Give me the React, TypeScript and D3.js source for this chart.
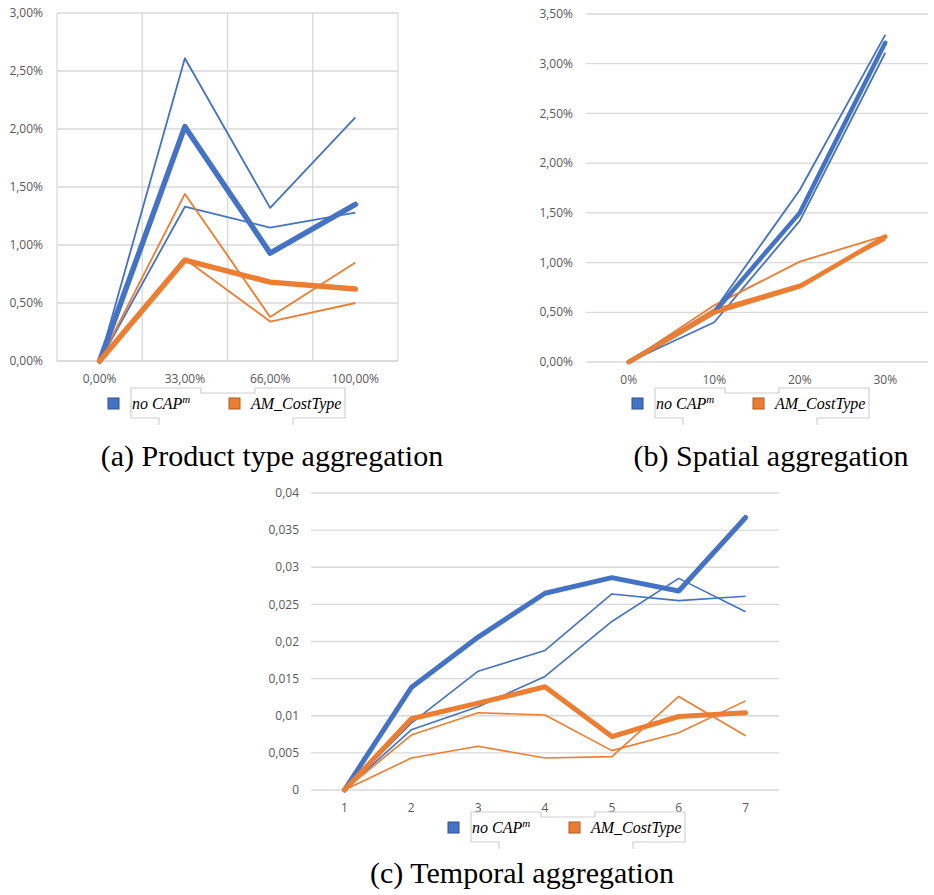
import React from "react";
import * as d3 from "d3";

// ---------- DATA ----------
const aCategories = ["0,00%", "33,00%", "66,00%", "100,00%"];
const aBlueThick = [0, 2.02, 0.93, 1.35];
const aBlueThinA = [0, 2.61, 1.32, 2.1];
const aBlueThinB = [0, 1.33, 1.15, 1.28];
const aOrangeThick = [0, 0.87, 0.68, 0.62];
const aOrangeThinA = [0, 1.44, 0.38, 0.85];
const aOrangeThinB = [0, 0.88, 0.34, 0.5];
const aYTicks = [0, 0.5, 1, 1.5, 2, 2.5, 3];

const bCategories = ["0%", "10%", "20%", "30%"];
const bBlueThick = [0, 0.5, 1.5, 3.21];
const bBlueThinA = [0, 0.4, 1.42, 3.11];
const bBlueThinB = [0, 0.52, 1.73, 3.29];
const bOrangeThick = [0, 0.5, 0.76, 1.26];
const bOrangeThinA = [0, 0.57, 1.01, 1.27];
const bOrangeThinB = [0, 0.53, 0.78, 1.23];
const bYTicks = [0, 0.5, 1, 1.5, 2, 2.5, 3, 3.5];

const cCategories = ["1", "2", "3", "4", "5", "6", "7"];
const cBlueThick = [0, 0.0138, 0.0206, 0.0265, 0.0286, 0.0268, 0.0367];
const cBlueThinA = [0, 0.009, 0.016, 0.0188, 0.0264, 0.0255, 0.0261];
const cBlueThinB = [0, 0.0081, 0.0112, 0.0153, 0.0227, 0.0285, 0.024];
const cOrangeThick = [0, 0.0096, 0.0117, 0.0139, 0.0072, 0.0099, 0.0104];
const cOrangeThinA = [0, 0.0074, 0.0104, 0.0101, 0.0053, 0.0077, 0.012];
const cOrangeThinB = [0, 0.0043, 0.0059, 0.0043, 0.0045, 0.0126, 0.0073];
const cYTicks = [0, 0.005, 0.01, 0.015, 0.02, 0.025, 0.03, 0.035, 0.04];

const legendLabels = ["no CAP", "AM_CostType"];
const captions = [
  "(a) Product type aggregation",
  "(b) Spatial aggregation",
  "(c) Temporal aggregation",
];

// ---------- STYLE ----------
const BLUE = "#4472C4";
const ORANGE = "#ED7D31";
const GRID = "#d9d9d9";
const TICK = "#595959";
const TICK_FONT = "'Open Sans', 'Liberation Sans', sans-serif";

type Series = { values: number[]; color: string; thick: boolean };

const pctFmt = (v: number) => v.toFixed(2).replace(".", ",") + "%";
const decFmt = (v: number) =>
  v === 0 ? "0" : String(+v.toFixed(3)).replace(".", ",");

function Panel(props: {
  categories: string[];
  series: Series[];
  yTicks: number[];
  yMax: number;
  fmt: (v: number) => string;
  left: number;
  right: number;
  top: number;
  bottom: number;
  labelX: number;
  vGrid: boolean;
  thickW: number;
  thinW: number;
}) {
  const { categories, series, yTicks, yMax, fmt, left, right, top, bottom, labelX, vGrid } = props;
  const x = d3.scaleBand<string>().domain(categories).range([left, right]);
  const y = d3.scaleLinear().domain([0, yMax]).range([bottom, top]);
  const line = d3
    .line<number>()
    .x((_, i) => (x(categories[i]) as number) + x.bandwidth() / 2)
    .y((d) => y(d));
  const order = [...series].sort((a, b) => Number(a.thick) - Number(b.thick));
  return (
    <g>
      {yTicks.map((t) => (
        <g key={t}>
          <line x1={left} x2={right} y1={y(t)} y2={y(t)} stroke={GRID} strokeWidth={1.3} />
          <text
            x={labelX}
            y={y(t)}
            dy="0.35em"
            textAnchor="end"
            fontSize={12}
            fill={TICK}
            fontFamily={TICK_FONT}
          >
            {fmt(t)}
          </text>
        </g>
      ))}
      {vGrid &&
        d3.range(categories.length + 1).map((i) => {
          const xx = i === categories.length ? right : (x(categories[i]) as number);
          return (
            <line key={"v" + i} x1={xx} x2={xx} y1={top} y2={bottom} stroke={GRID} strokeWidth={1.3} />
          );
        })}
      {categories.map((c) => (
        <text
          key={c}
          x={(x(c) as number) + x.bandwidth() / 2}
          y={bottom + 22}
          textAnchor="middle"
          fontSize={12}
          fill={TICK}
          fontFamily={TICK_FONT}
        >
          {c}
        </text>
      ))}
      {order
        .filter((s) => !s.thick)
        .map((s, i) => (
          <path
            key={"t" + i}
            d={line(s.values) || ""}
            fill="none"
            stroke={s.color}
            strokeWidth={props.thinW}
            strokeLinejoin="round"
          />
        ))}
      {order
        .filter((s) => s.thick)
        .map((s, i) => (
          <path
            key={"k" + i}
            d={line(s.values) || ""}
            fill="none"
            stroke={s.color}
            strokeWidth={props.thickW}
            strokeLinejoin="round"
            strokeLinecap="round"
          />
        ))}
    </g>
  );
}

function Legend(props: { x: number; y: number }) {
  const { x, y } = props;
  const frame = [
    [x, y + 30],
    [x, y],
    [x + 70, y],
    [x + 70, y + 5],
    [x + 124, y + 5],
    [x + 124, y],
    [x + 214, y],
    [x + 214, y + 30],
    [x + 162, y + 30],
    [x + 162, y + 37],
  ];
  const frame2 = [
    [x, y + 30],
    [x + 28, y + 30],
    [x + 28, y + 37],
  ];
  const pl = (p: number[][]) => p.map((q) => q.join(",")).join(" ");
  const font = "'Liberation Serif', 'DejaVu Serif', serif";
  return (
    <g>
      <polyline points={pl(frame)} fill="none" stroke="#d0d0d0" strokeWidth={1.2} />
      <polyline points={pl(frame2)} fill="none" stroke="#d0d0d0" strokeWidth={1.2} />
      <rect x={x - 23} y={y + 10} width={11} height={11} fill={BLUE} stroke="#2f528f" strokeWidth={1} />
      <text x={x + 1} y={y + 21} fontSize={16} fontStyle="italic" fontFamily={font} fill="#000">
        {legendLabels[0]}
        <tspan dy={-6} fontSize={11}>
          m
        </tspan>
      </text>
      <rect x={x + 98} y={y + 10} width={11} height={11} fill={ORANGE} stroke="#ae5a21" strokeWidth={1} />
      <text x={x + 120} y={y + 21} fontSize={16} fontStyle="italic" fontFamily={font} fill="#000">
        {legendLabels[1]}
      </text>
    </g>
  );
}

const mk = (
  bt: number[],
  b1: number[],
  b2: number[],
  ot: number[],
  o1: number[],
  o2: number[]
): Series[] => [
  { values: b1, color: BLUE, thick: false },
  { values: b2, color: BLUE, thick: false },
  { values: bt, color: BLUE, thick: true },
  { values: o1, color: ORANGE, thick: false },
  { values: o2, color: ORANGE, thick: false },
  { values: ot, color: ORANGE, thick: true },
];

export default function App() {
  const capFont = "'Liberation Serif', 'DejaVu Serif', serif";
  return (
    <svg
      width={934}
      height={895}
      style={{ position: "absolute", left: 0, top: 0, background: "#fff" }}
    >
      <rect width={934} height={895} fill="#fff" />
      {/* Panel a */}
      <line x1={57} x2={398} y1={361} y2={361} stroke={GRID} />
      <Panel
        categories={aCategories}
        series={mk(aBlueThick, aBlueThinA, aBlueThinB, aOrangeThick, aOrangeThinA, aOrangeThinB)}
        yTicks={aYTicks}
        yMax={3}
        fmt={pctFmt}
        left={57}
        right={398}
        top={13}
        bottom={361}
        labelX={43}
        vGrid={true}
        thickW={5.5}
        thinW={1.8}
      />
      <Legend x={131} y={388} />
      <text x={272} y={466} textAnchor="middle" fontSize={30} fontFamily={capFont}>
        {captions[0]}
      </text>

      {/* Panel b */}
      <Panel
        categories={bCategories}
        series={mk(bBlueThick, bBlueThinA, bBlueThinB, bOrangeThick, bOrangeThinA, bOrangeThinB)}
        yTicks={bYTicks}
        yMax={3.5}
        fmt={pctFmt}
        left={586}
        right={928}
        top={14}
        bottom={362}
        labelX={573}
        vGrid={false}
        thickW={4.5}
        thinW={1.8}
      />
      <Legend x={655} y={388} />
      <text x={771} y={466} textAnchor="middle" fontSize={30} fontFamily={capFont}>
        {captions[1]}
      </text>

      {/* Panel c */}
      <Panel
        categories={cCategories}
        series={mk(cBlueThick, cBlueThinA, cBlueThinB, cOrangeThick, cOrangeThinA, cOrangeThinB)}
        yTicks={cYTicks}
        yMax={0.04}
        fmt={decFmt}
        left={311}
        right={779}
        top={493}
        bottom={790}
        labelX={299}
        vGrid={false}
        thickW={5}
        thinW={1.6}
      />
      <Legend x={471} y={812} />
      <text x={522} y={883} textAnchor="middle" fontSize={30} fontFamily={capFont}>
        {captions[2]}
      </text>
    </svg>
  );
}
